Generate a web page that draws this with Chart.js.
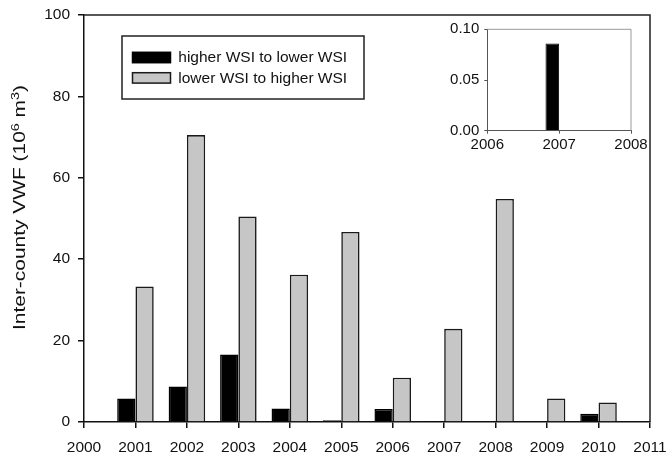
<!DOCTYPE html>
<html>
<head>
<meta charset="utf-8">
<script src="https://cdn.jsdelivr.net/npm/chart.js@4.4.1/dist/chart.umd.min.js"></script>
<style>
  html, body { margin: 0; padding: 0; background: #fff; }
  #wrap { position: relative; width: 667px; height: 454px; }
  #main { position: absolute; left: 0; top: 0; }
  #inset { position: absolute; left: 440px; top: 14px; }
</style>
</head>
<body>
<div id="wrap">
  <canvas id="main" width="667" height="454"></canvas>
  <canvas id="inset" width="225" height="140"></canvas>
</div>
<script>
// Inter-county virtual water flow by year (10^6 m^3)
const years = [2001, 2002, 2003, 2004, 2005, 2006, 2007, 2008, 2009, 2010];
const higherToLower = [5.8, 8.7, 16.6, 3.3, 0.4, 3.2, 0.086, 0, 0, 2.0];
const lowerToHigher = [33.3, 70.5, 50.5, 36.2, 46.7, 10.9, 22.9, 54.8, 5.8, 4.8];
const seriesNames = ['higher WSI to lower WSI', 'lower WSI to higher WSI'];

const xTickLabels = ['2000', '2001', '2002', '2003', '2004', '2005', '2006', '2007', '2008', '2009', '2010', '2011'];
const yTickLabels = ['0', '20', '40', '60', '80', '100'];

// Axis title pieces: [text, superscript?]
const yTitleParts = [['Inter-county VWF (10', false], ['6', true], [' m', false], ['3', true], [')', false]];

// Zoomed panel: the small 2007 flow
const insetYears = [2007];
const insetXTickLabels = ['2006', '2007', '2008'];
const insetYTickLabels = ['0.00', '0.05', '0.10'];

const FONT = '"Liberation Sans", Arial, sans-serif';
const INK = '#111';
const BLACK_FILL = '#000000';
const GRAY_FILL = '#c6c6c6';

// Fixed axis box sizes; label overhang is left to the layout padding
function fixedBox(size) {
  return function (s) {
    if (s.isHorizontal()) s.height = size; else s.width = size;
    s.paddingLeft = s.paddingRight = s.paddingTop = s.paddingBottom = 0;
  };
}

// Top and right edges of the plot box
function framePlugin(color, width) {
  return {
    id: 'frame',
    afterDraw(chart) {
      const { ctx, chartArea: a } = chart;
      ctx.save();
      ctx.strokeStyle = color;
      ctx.lineWidth = width;
      ctx.beginPath();
      ctx.moveTo(a.left, a.top);
      ctx.lineTo(a.right, a.top);
      ctx.lineTo(a.right, a.bottom);
      ctx.stroke();
      ctx.restore();
    }
  };
}

// Rotated y-axis title with superscript exponents
const yTitle = {
  id: 'yTitle',
  afterDraw(chart) {
    const { ctx, chartArea: a } = chart;
    const mainFont = '16px ' + FONT, supFont = '11px ' + FONT;
    ctx.save();
    let total = 0;
    const widths = yTitleParts.map(([t, sup]) => {
      ctx.font = sup ? supFont : mainFont;
      const w = ctx.measureText(t).width;
      total += w;
      return w;
    });
    const span = 245;
    const sx = span / total;
    ctx.translate(25, (a.top + a.bottom) / 2 - 11);
    ctx.rotate(-Math.PI / 2);
    ctx.scale(sx, 1);
    ctx.fillStyle = INK;
    ctx.textBaseline = 'alphabetic';
    ctx.textAlign = 'left';
    let x = -total / 2;
    yTitleParts.forEach(([t, sup], i) => {
      ctx.font = sup ? supFont : mainFont;
      ctx.fillText(t, x, sup ? -6 : 0);
      x += widths[i];
    });
    ctx.restore();
  }
};

// Boxed legend inside the plot area
const boxLegend = {
  id: 'boxLegend',
  afterDraw(chart) {
    const { ctx, chartArea: a } = chart;
    const x0 = a.left + 38, y0 = a.top + 21, w = 242, h = 63;
    ctx.save();
    ctx.fillStyle = '#fff';
    ctx.fillRect(x0, y0, w, h);
    ctx.lineWidth = 1.5;
    ctx.strokeStyle = '#222';
    ctx.strokeRect(x0, y0, w, h);
    chart.data.datasets.forEach((ds, i) => {
      const sy = y0 + 16.3 + i * 20.4;
      ctx.fillStyle = ds.backgroundColor;
      ctx.fillRect(x0 + 10.5, sy, 38, 10.4);
      ctx.lineWidth = 1.5;
      ctx.strokeStyle = ds.borderColor;
      ctx.strokeRect(x0 + 10.5, sy, 38, 10.4);
      ctx.fillStyle = INK;
      ctx.font = '15.5px ' + FONT;
      ctx.textBaseline = 'middle';
      ctx.textAlign = 'left';
      ctx.fillText(ds.label, x0 + 56.3, sy + 5.6);
    });
    ctx.restore();
  }
};

new Chart(document.getElementById('main'), {
  type: 'bar',
  data: {
    datasets: [
      {
        label: seriesNames[0],
        data: years.map((yr, i) => ({ x: yr, y: higherToLower[i] })),
        backgroundColor: BLACK_FILL,
        borderColor: '#000',
        borderWidth: 1.5,
        categoryPercentage: 0.71,
        barPercentage: 1
      },
      {
        label: seriesNames[1],
        data: years.map((yr, i) => ({ x: yr, y: lowerToHigher[i] })),
        backgroundColor: GRAY_FILL,
        borderColor: '#1a1a1a',
        borderWidth: 1.6,
        categoryPercentage: 0.71,
        barPercentage: 1
      }
    ]
  },
  options: {
    responsive: false,
    animation: false,
    devicePixelRatio: 1,
    layout: { autoPadding: false, padding: { left: 0, top: 15, right: 17, bottom: 0 } },
    plugins: { legend: { display: false }, tooltip: { enabled: false } },
    scales: {
      x: {
        type: 'linear',
        min: 2000,
        max: 2011,
        offset: false,
        grid: { display: true, drawOnChartArea: false, drawTicks: true, tickLength: 6, color: INK, lineWidth: 1.5, offset: false },
        border: { display: true, color: INK, width: 1.5 },
        ticks: {
          stepSize: 1, autoSkip: false, maxRotation: 0, padding: 10, color: INK,
          font: { family: FONT, size: 15.5 },
          callback: (v, i) => xTickLabels[i]
        },
        afterFit: fixedBox(32)
      },
      y: {
        min: 0,
        max: 100,
        grid: { display: true, drawOnChartArea: false, drawTicks: true, tickLength: 6, color: INK, lineWidth: 1.5 },
        border: { display: true, color: INK, width: 1.5 },
        ticks: {
          stepSize: 20, padding: 8, color: INK,
          font: { family: FONT, size: 15.5 },
          callback: (v, i) => yTickLabels[i]
        },
        afterFit: fixedBox(84)
      }
    }
  },
  plugins: [framePlugin('#222', 1.5), boxLegend, yTitle]
});

new Chart(document.getElementById('inset'), {
  type: 'bar',
  data: {
    datasets: [
      {
        label: seriesNames[0],
        data: insetYears.map(yr => ({ x: yr, y: higherToLower[years.indexOf(yr)] })),
        backgroundColor: BLACK_FILL,
        borderColor: '#000',
        borderWidth: 1,
        categoryPercentage: 0.38,
        barPercentage: 1
      },
      {
        label: seriesNames[1],
        data: insetYears.map(yr => ({ x: yr, y: null })),
        backgroundColor: GRAY_FILL,
        borderColor: '#1a1a1a',
        borderWidth: 1,
        categoryPercentage: 0.38,
        barPercentage: 1
      }
    ]
  },
  options: {
    responsive: false,
    animation: false,
    devicePixelRatio: 1,
    layout: { autoPadding: false, padding: { left: 0, top: 15.3, right: 34, bottom: 0 } },
    plugins: { legend: { display: false }, tooltip: { enabled: false } },
    scales: {
      x: {
        type: 'linear',
        min: 2006,
        max: 2008,
        offset: false,
        grid: { display: true, drawOnChartArea: false, drawTicks: true, tickLength: 3, color: '#555', lineWidth: 1, offset: false },
        border: { display: true, color: '#555', width: 1 },
        ticks: {
          stepSize: 1, autoSkip: false, maxRotation: 0, padding: 2, color: INK,
          font: { family: FONT, size: 15 },
          callback: (v, i) => insetXTickLabels[i]
        },
        afterFit: fixedBox(23.3)
      },
      y: {
        min: 0,
        max: 0.1,
        grid: { display: true, drawOnChartArea: false, drawTicks: true, tickLength: 3, color: '#555', lineWidth: 1 },
        border: { display: true, color: '#555', width: 1 },
        ticks: {
          stepSize: 0.05, padding: 5, color: INK,
          font: { family: FONT, size: 15 },
          callback: (v, i) => insetYTickLabels[i]
        },
        afterFit: fixedBox(47.3)
      }
    }
  },
  plugins: [framePlugin('#9a9a9a', 1)]
});
</script>
</body>
</html>
